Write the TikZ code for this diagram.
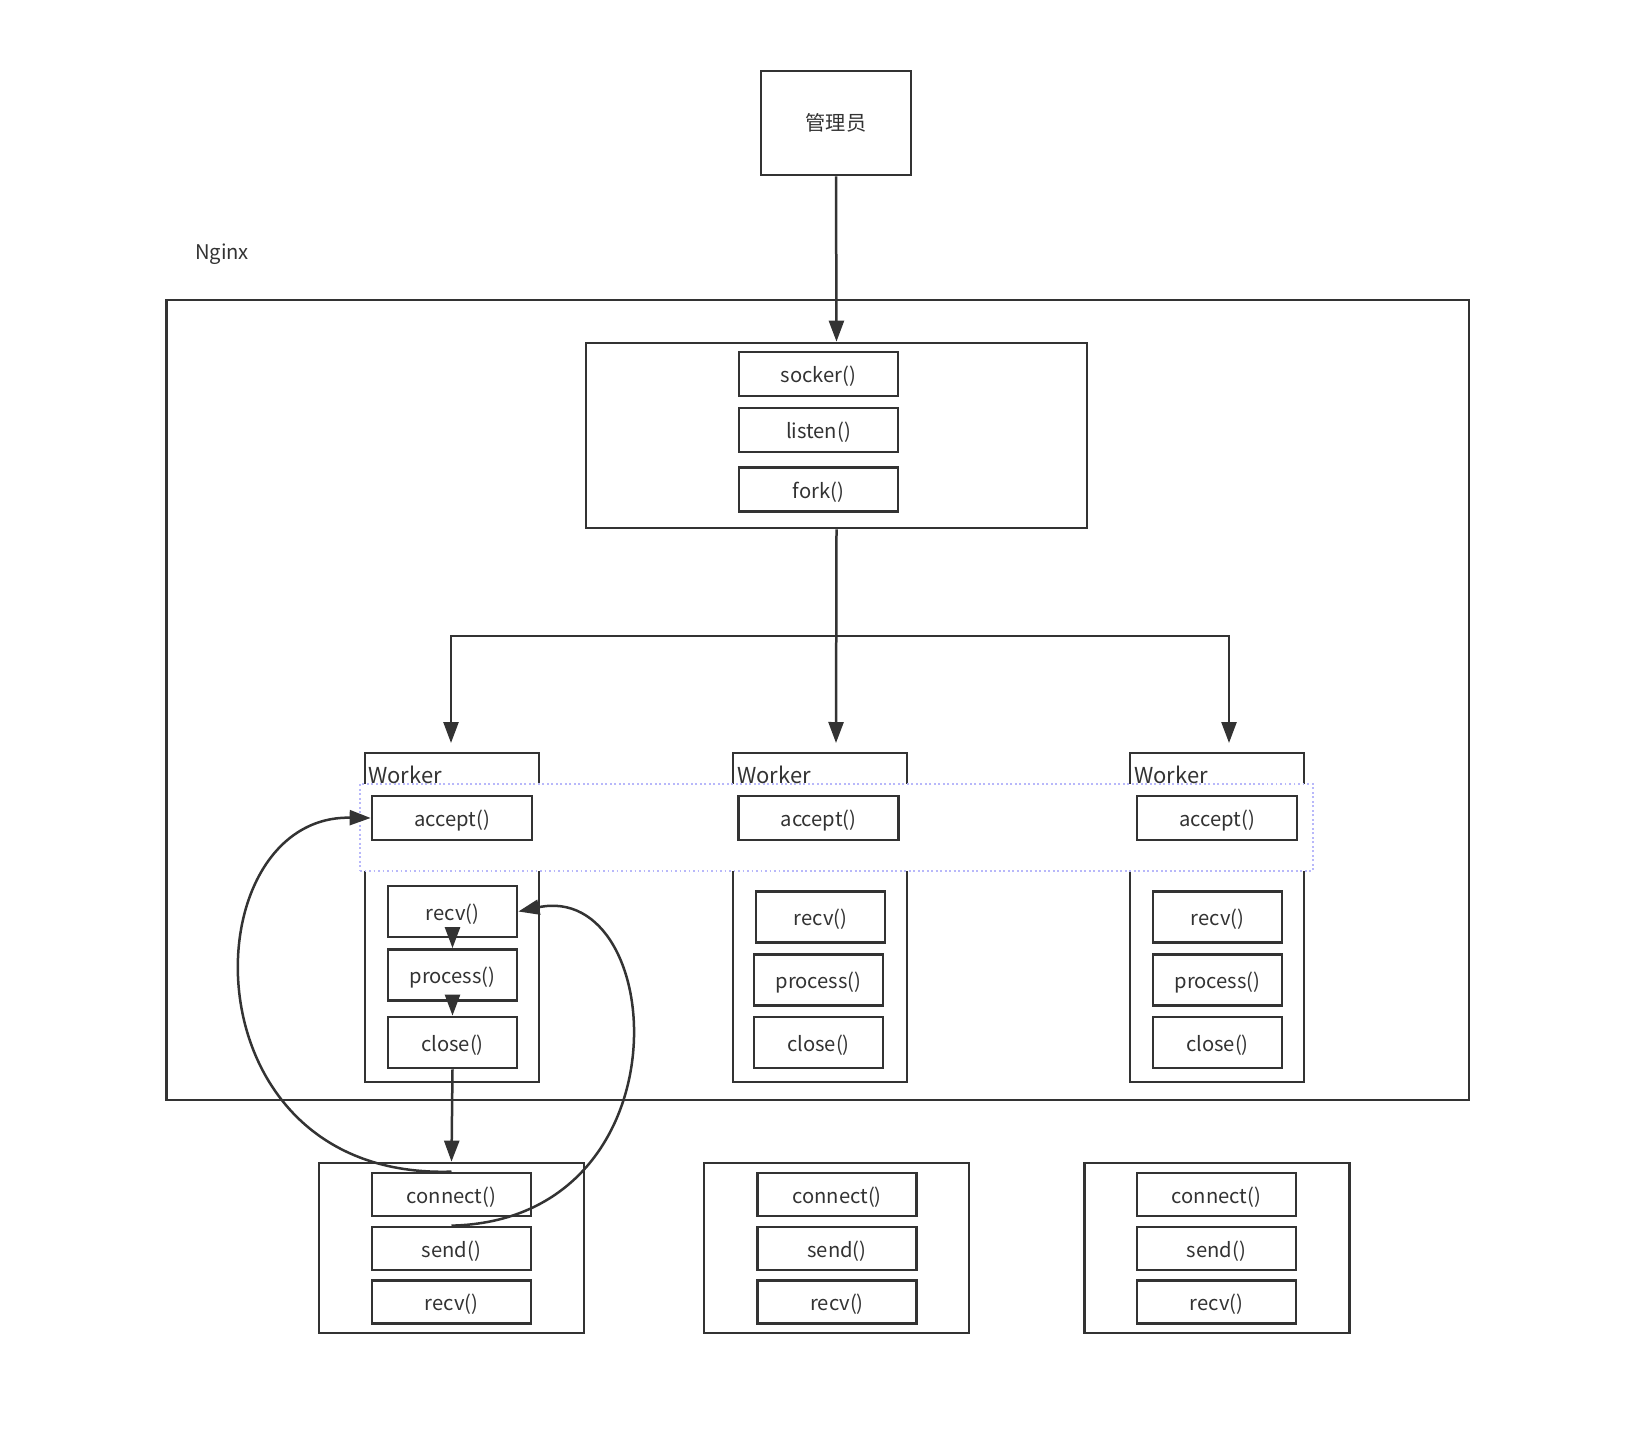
\documentclass[tikz,border=0pt]{standalone}
\usepackage{fontspec}
\setmainfont{Noto Sans CJK SC}
\usepackage{tikz}
\usetikzlibrary{arrows.meta,positioning}
\definecolor{ink}{HTML}{333333}
\definecolor{dotblue}{HTML}{B8B8FA}

\begin{document}
\begin{tikzpicture}[
    x=0.02cm, y=-0.02cm,
    every node/.style={text=ink, font=\fontsize{11.5}{13}\selectfont},
    frame/.style={draw=ink, line width=0.055cm, fill=white, inner sep=0pt},
    fn/.style={frame, minimum width=3.18cm, minimum height=0.88cm, text height=2.1ex, text depth=0.25ex},
    wfn/.style={frame, minimum width=2.58cm, minimum height=1.02cm, text height=2.1ex, text depth=0.25ex},
    worker/.style={frame, minimum width=3.48cm, minimum height=6.58cm},
    client/.style={frame, minimum width=5.3cm, minimum height=3.4cm},
    band/.style={draw=dotblue, line width=0.05cm, dash pattern=on 0.035cm off 0.055cm, fill=white, minimum width=19.06cm, minimum height=1.74cm},
    arr/.style={-{Triangle[length=0.42cm, width=0.3cm]}, draw=ink, line width=0.05cm}
  ]
    \useasboundingbox (0,0) rectangle (1648,1442);

    % Nginx and the admin
    \node[frame, minimum width=26.06cm, minimum height=16cm] (nginx) at (817.5,700) {};
    \node (nginxlbl) at (222,254) {Nginx};
    \node[frame, minimum width=3cm, minimum height=2.08cm] (admin) at (836,123) {管理员};

    % master process
    \node[frame, minimum width=10.02cm, minimum height=3.7cm] (master) at (836.5,435.5) {};
    \node[fn] (socker) at (818.5,374) {socker()};
    \node[fn] (listen) at (818.5,430) {listen()};
    \node[fn] (fork) at (818.5,489.5) {fork()};

    % workers
    \node[worker] (w1) at (452,917.5) {};
    \node[worker] (w2) at (820,917.5) {};
    \node[worker] (w3) at (1217,917.5) {};
    \node[anchor=west, inner sep=0pt, font=\fontsize{12.5}{14}\selectfont] (w1lbl) at (368,775) {Worker};
    \node[anchor=west, inner sep=0pt, font=\fontsize{12.5}{14}\selectfont] (w2lbl) at (737,775) {Worker};
    \node[anchor=west, inner sep=0pt, font=\fontsize{12.5}{14}\selectfont] (w3lbl) at (1134,775) {Worker};

    \node[band] (acceptband) at (836.5,827.5) {};
    \node[fn, minimum width=3.2cm] (acc1) at (452,818) {accept()};
    \node[fn, minimum width=3.2cm] (acc2) at (818.5,818) {accept()};
    \node[fn, minimum width=3.2cm] (acc3) at (1217,818) {accept()};

    \node[wfn] (recv1) at (452.5,911.5) {recv()};
    \node[wfn] (proc1) at (452.5,975) {process()};
    \node[wfn] (close1) at (452.5,1042.5) {close()};
    \node[wfn] (recv2) at (820.5,917) {recv()};
    \node[wfn] (proc2) at (818.5,980) {process()};
    \node[wfn] (close2) at (818.5,1042.5) {close()};
    \node[wfn] (recv3) at (1217.5,917) {recv()};
    \node[wfn] (proc3) at (1217.5,980) {process()};
    \node[wfn] (close3) at (1217.5,1042.5) {close()};

    % clients
    \node[client] (c1) at (451.5,1248) {};
    \node[client] (c2) at (836.5,1248) {};
    \node[client] (c3) at (1217,1248) {};
    \node[fn, minimum height=0.86cm] (conn1) at (451.5,1194.5) {connect()};
    \node[fn, minimum height=0.86cm] (send1) at (451.5,1248.5) {send()};
    \node[fn, minimum height=0.86cm] (crecv1) at (451.5,1302) {recv()};
    \node[fn, minimum height=0.86cm] (conn2) at (837,1194.5) {connect()};
    \node[fn, minimum height=0.86cm] (send2) at (837,1248.5) {send()};
    \node[fn, minimum height=0.86cm] (crecv2) at (837,1302) {recv()};
    \node[fn, minimum height=0.86cm] (conn3) at (1216.5,1194.5) {connect()};
    \node[fn, minimum height=0.86cm] (send3) at (1216.5,1248.5) {send()};
    \node[fn, minimum height=0.86cm] (crecv3) at (1216.5,1302) {recv()};

    % connectors
    \coordinate (split) at (836,636);
    \coordinate (t1) at (451,743);
    \coordinate (t2) at (836,743);
    \coordinate (t3) at (1229,743);
    \draw[arr] (admin.south) -- (master.north);
    \draw[arr] (master.south) -- (t2);
    \draw[arr] (split) -| (t1);
    \draw[arr] (split) -| (t3);
    \draw[arr] (recv1.south) -- (proc1.north);
    \draw[arr] (proc1.south) -- (close1.north);
    \draw[arr] (close1.south) -- (c1.north);
    \draw[arr] (conn1.north) .. controls (182,1180) and (190,815) .. (acc1.west);
    \draw[arr] (send1.north) .. controls (690,1220) and (668,880) .. (recv1.east);
  \end{tikzpicture}
\end{document}
